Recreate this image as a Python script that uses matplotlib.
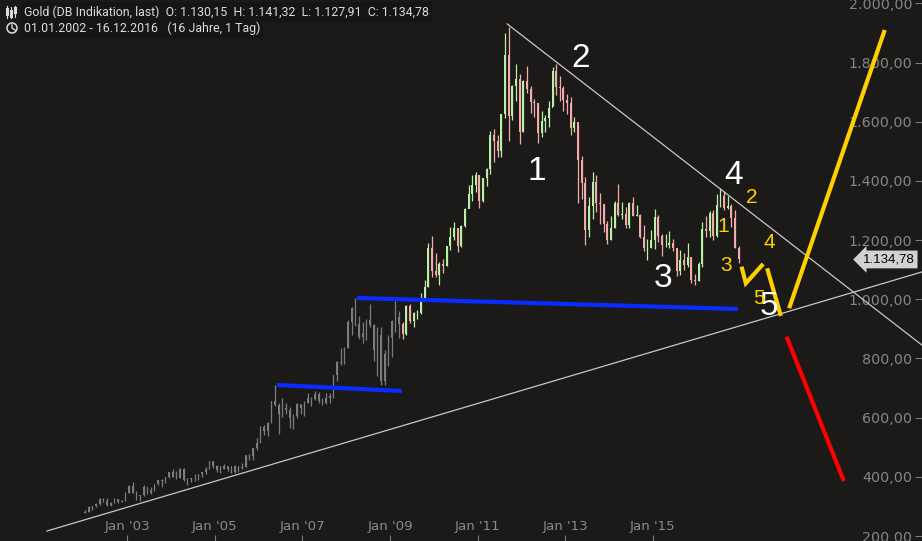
import matplotlib
matplotlib.use('Agg')
import matplotlib.pyplot as plt
import matplotlib.transforms as mtransforms
from matplotlib.patches import Ellipse
from matplotlib.lines import Line2D
import numpy as np

# ---------------- data (monthly candles, USD/oz) ----------------
START_YEAR = 2002
OPEN_FIRST = 279.0
CLOSE = [
    282, 297, 302, 308, 326, 318, 304, 312, 324, 316, 318, 347,      # 2002
    368, 347, 334, 337, 364, 346, 354, 375, 388, 386, 398, 417,      # 2003
    400, 396, 426, 388, 393, 394, 391, 408, 416, 428, 453, 438,      # 2004
    422, 435, 428, 435, 417, 437, 430, 433, 473, 470, 496, 513,      # 2005
    569, 556, 583, 655, 643, 614, 633, 625, 598, 604, 646, 632,      # 2006
    650, 665, 663, 679, 657, 650, 665, 672, 744, 789, 784, 834,      # 2007
    924, 971, 917, 872, 887, 930, 913, 829, 880, 724, 815, 870,      # 2008
    928, 941, 918, 883, 979, 927, 953, 953, 1001, 1040, 1175, 1096,  # 2009
    1081, 1118, 1113, 1179, 1212, 1242, 1181, 1248, 1307, 1357, 1386, 1421,  # 2010
    1332, 1409, 1439, 1556, 1536, 1500, 1628, 1826, 1620, 1722, 1746, 1565,  # 2011
    1737, 1710, 1668, 1664, 1561, 1604, 1614, 1648, 1773, 1719, 1713, 1675,  # 2012
    1663, 1578, 1598, 1472, 1393, 1234, 1314, 1396, 1327, 1323, 1253, 1202,  # 2013
    1240, 1326, 1284, 1290, 1250, 1327, 1282, 1286, 1210, 1172, 1175, 1199,  # 2014
    1278, 1213, 1183, 1184, 1191, 1172, 1095, 1133, 1115, 1142, 1064, 1061,  # 2015
    1118, 1238, 1232, 1291, 1215, 1320, 1350, 1308, 1315, 1274, 1174, 1134.78,  # 2016
]
HIGH = [
    289, 303, 303, 310, 327, 330, 327, 315, 327, 324, 323, 349,
    372, 382, 352, 339, 372, 365, 365, 376, 390, 391, 400, 418,
    428, 420, 429, 431, 395, 397, 409, 410, 416, 432, 455, 451,
    441, 437, 445, 437, 432, 441, 436, 447, 475, 478, 497, 530,
    572, 575, 585, 655, 712, 650, 665, 650, 635, 614, 648, 645,
    657, 685, 670, 690, 688, 665, 683, 683, 745, 793, 835, 840,
    930, 975, 1005, 945, 925, 935, 985, 915, 905, 905, 830, 880,
    930, 995, 960, 925, 980, 985, 958, 965, 1020, 1065, 1190, 1215,
    1155, 1125, 1135, 1180, 1245, 1260, 1240, 1250, 1310, 1385, 1420, 1430,
    1420, 1411, 1445, 1570, 1575, 1555, 1628, 1900, 1921, 1725, 1795, 1760,
    1740, 1790, 1720, 1676, 1665, 1635, 1624, 1670, 1785, 1796, 1755, 1720,
    1695, 1684, 1615, 1590, 1485, 1415, 1345, 1430, 1420, 1360, 1320, 1265,
    1280, 1332, 1390, 1330, 1312, 1330, 1345, 1320, 1290, 1252, 1205, 1235,
    1305, 1285, 1220, 1222, 1230, 1205, 1170, 1168, 1155, 1190, 1140, 1086,
    1126, 1260, 1280, 1300, 1302, 1355, 1375, 1365, 1350, 1323, 1303, 1180,
]
LOW = [
    277, 282, 288, 298, 306, 314, 302, 302, 311, 311, 315, 317,
    344, 345, 323, 319, 335, 343, 341, 352, 371, 366, 378, 396,
    398, 392, 395, 386, 372, 383, 387, 389, 400, 408, 425, 431,
    418, 412, 426, 421, 414, 414, 418, 428, 434, 458, 457, 491,
    514, 540, 538, 583, 640, 545, 603, 612, 565, 562, 600, 614,
    605, 648, 638, 660, 650, 642, 645, 650, 668, 725, 777, 782,
    834, 880, 910, 865, 852, 862, 908, 790, 742, 712, 710, 775,
    805, 890, 868, 866, 880, 920, 908, 932, 952, 1002, 1040, 1077,
    1077, 1048, 1090, 1113, 1166, 1202, 1160, 1177, 1244, 1310, 1333, 1363,
    1310, 1330, 1383, 1422, 1464, 1480, 1482, 1612, 1535, 1607, 1669, 1525,
    1566, 1698, 1630, 1615, 1530, 1550, 1565, 1583, 1652, 1692, 1672, 1637,
    1628, 1557, 1565, 1325, 1340, 1182, 1210, 1272, 1294, 1253, 1229, 1187,
    1202, 1240, 1280, 1270, 1242, 1242, 1283, 1282, 1207, 1162, 1133, 1172,
    1169, 1193, 1145, 1177, 1172, 1164, 1079, 1082, 1100, 1108, 1055, 1047,
    1063, 1110, 1210, 1211, 1202, 1209, 1312, 1303, 1307, 1243, 1172, 1124,
]
COLOR_FROM_YEAR = 2009.25      # older candles are drawn grey

Y_TICKS = [200, 400, 600, 800, 1000, 1200, 1400, 1600, 1800, 2000]
X_TICK_YEARS = [2003, 2005, 2007, 2009, 2011, 2013, 2015]
X_TICK_LABELS = ["Jan '03", "Jan '05", "Jan '07", "Jan '09", "Jan '11", "Jan '13", "Jan '15"]
LAST_PRICE = 1134.78

# drawn analysis (year, price)
RESIST_LINE = ([2011.674, 2021.136], [1930.9, 845.7])
SUPPORT_LINE = ([2001.172, 2021.136], [216.9, 1092.5])
BLUE_LINE_1 = ([2008.245, 2016.938], [1004.6, 967.4])
BLUE_LINE_2 = ([2006.420, 2009.272], [710.5, 690.2])
YELLOW_PATH_1 = ([2017.022, 2017.120, 2017.515], [1110.4, 1054.3, 1119.6])
YELLOW_PATH_2 = ([2017.606, 2017.919], [1105.0, 943.8])
YELLOW_UP = ([2018.108, 2020.290], [969.8, 1910.6])
RED_DOWN = ([2018.049, 2019.356], [873.8, 385.9])
WAVE_BIG = [("1", 2012.345, 1431.6), ("2", 2013.35, 1812.6), ("3", 2015.227, 1068.8),
            ("4", 2016.847, 1417.0), ("5", 2017.645, 975.2)]
WAVE_SMALL = [("1", 2016.595, 1245.6), ("2", 2017.25, 1344.4), ("3", 2016.66, 1113.5),
              ("4", 2017.645, 1190.5), ("5", 2017.417, 1001.2)]

# ---------------- figure ----------------
BG = '#1c1a19'
W, H = 922, 541
fig = plt.figure(figsize=(W / 100, H / 100), dpi=100, facecolor=BG)
ax = fig.add_axes([0, 0, 1, 1])
ax.set_facecolor(BG)
ax.set_xlim(2000.10, 2021.14)
ax.set_ylim(183.1, 2011.8)
for s in ax.spines.values():
    s.set_visible(False)

# candles
close = np.array(CLOSE, dtype=float)
high = np.array(HIGH, dtype=float)
low = np.array(LOW, dtype=float)
opn = np.concatenate([[OPEN_FIRST], close[:-1]])
t = START_YEAR + (np.arange(len(close)) + 0.5) / 12.0
grey = t < COLOR_FROM_YEAR
up = close >= opn
col = np.where(grey, '#7c7c7c', np.where(up, '#b8f0a4', '#f3aaa8'))
ax.vlines(t, low, high, colors=list(col), linewidth=0.9, zorder=2)
body_lo = np.minimum(opn, close)
body_h = np.maximum(np.abs(close - opn), 2.0)
widths = np.where(grey, 0.03, 0.045)
ax.bar(t, body_h, bottom=body_lo, width=widths, color=list(col), linewidth=0, zorder=2)

# analysis lines
ax.plot(*RESIST_LINE, color='#c8c8c8', lw=0.9, zorder=3)
ax.plot(*SUPPORT_LINE, color='#c8c8c8', lw=0.9, zorder=3)
for ln in (BLUE_LINE_1, BLUE_LINE_2):
    ax.plot(*ln, color='#0a2bff', lw=3.0, solid_capstyle='butt', zorder=4)
for ln in (YELLOW_PATH_1, YELLOW_PATH_2, YELLOW_UP):
    ax.plot(*ln, color='#ffd000', lw=3.0, solid_capstyle='butt', solid_joinstyle='miter', zorder=4)
ax.plot(*RED_DOWN, color='#ff0000', lw=3.0, solid_capstyle='butt', zorder=4)

for s, x, y in WAVE_BIG:
    ax.text(x, y, s, color='white', fontsize=24, family='Liberation Sans',
            ha='center', va='center', zorder=5)
for s, x, y in WAVE_SMALL:
    ax.text(x, y, s, color='#ffd000', fontsize=15, family='Liberation Sans',
            ha='center', va='center', zorder=5)

# axes / ticks
def de_fmt(v):
    return f"{v:,.2f}".replace(',', 'X').replace('.', ',').replace('X', '.')

ax.yaxis.tick_right()
ax.set_yticks(Y_TICKS)
ax.set_yticklabels([de_fmt(v) for v in Y_TICKS])
ax.tick_params(axis='y', direction='in', length=5, width=0.8, color='#7a7a7a',
               pad=-7, labelcolor='#858585', labelsize=10.3)
for lab in ax.get_yticklabels():
    lab.set_ha('right')
    lab.set_family(['Liberation Sans Narrow', 'DejaVu Sans'])

ax.set_xticks(X_TICK_YEARS)
ax.set_xticklabels(X_TICK_LABELS)
ax.tick_params(axis='x', direction='in', length=4, width=0.8, color='#7a7a7a',
               pad=-15, labelcolor='#8a8a8a', labelsize=9.6)
for lab in ax.get_xticklabels():
    lab.set_family(['Liberation Sans Narrow', 'DejaVu Sans'])

# last price tag
trans = mtransforms.blended_transform_factory(ax.transAxes, ax.transData)
ax.text(0.992, LAST_PRICE, de_fmt(LAST_PRICE), transform=trans, ha='right', va='center',
        fontsize=9.5, color='black', family=['Liberation Sans', 'DejaVu Sans'], zorder=6,
        bbox=dict(boxstyle='larrow,pad=0.22', fc='#d2d2d2', ec='none'))

# header
hdr1 = "Gold (DB Indikation, last)  O: 1.130,15  H: 1.141,32  L: 1.127,91  C: 1.134,78"
hdr2 = "01.01.2002 - 16.12.2016   (16 Jahre, 1 Tag)"
for i, txt in enumerate([hdr1, hdr2]):
    fig.text(24 / W, 1 - (12 + 16 * i) / H, txt, color='#dcdcdc', fontsize=8.9,
             family=['Roboto', 'DejaVu Sans'], ha='left', va='center',
             bbox=dict(boxstyle='square,pad=0.25', fc='#161514', ec='none'))
# candle icon
for k, (xc, y0, y1, b0, b1) in enumerate([(7, 6, 18, 9, 14), (11, 7, 18, 11, 16), (15, 6, 17, 8, 12)]):
    fig.add_artist(Line2D([xc / W, xc / W], [1 - y0 / H, 1 - y1 / H], color='#dcdcdc', lw=0.8))
    fig.add_artist(Line2D([xc / W, xc / W], [1 - b0 / H, 1 - b1 / H], color='#dcdcdc', lw=2.2))
# clock icon
fig.add_artist(Ellipse((12 / W, 1 - 28 / H), 10 / W, 10 / H, fill=False, ec='#dcdcdc', lw=1.1))
fig.add_artist(Line2D([12 / W, 12 / W, 15 / W], [1 - 25 / H, 1 - 28 / H, 1 - 30 / H], color='#dcdcdc', lw=1.0))

fig.savefig('out.png', dpi=100, facecolor=BG)
